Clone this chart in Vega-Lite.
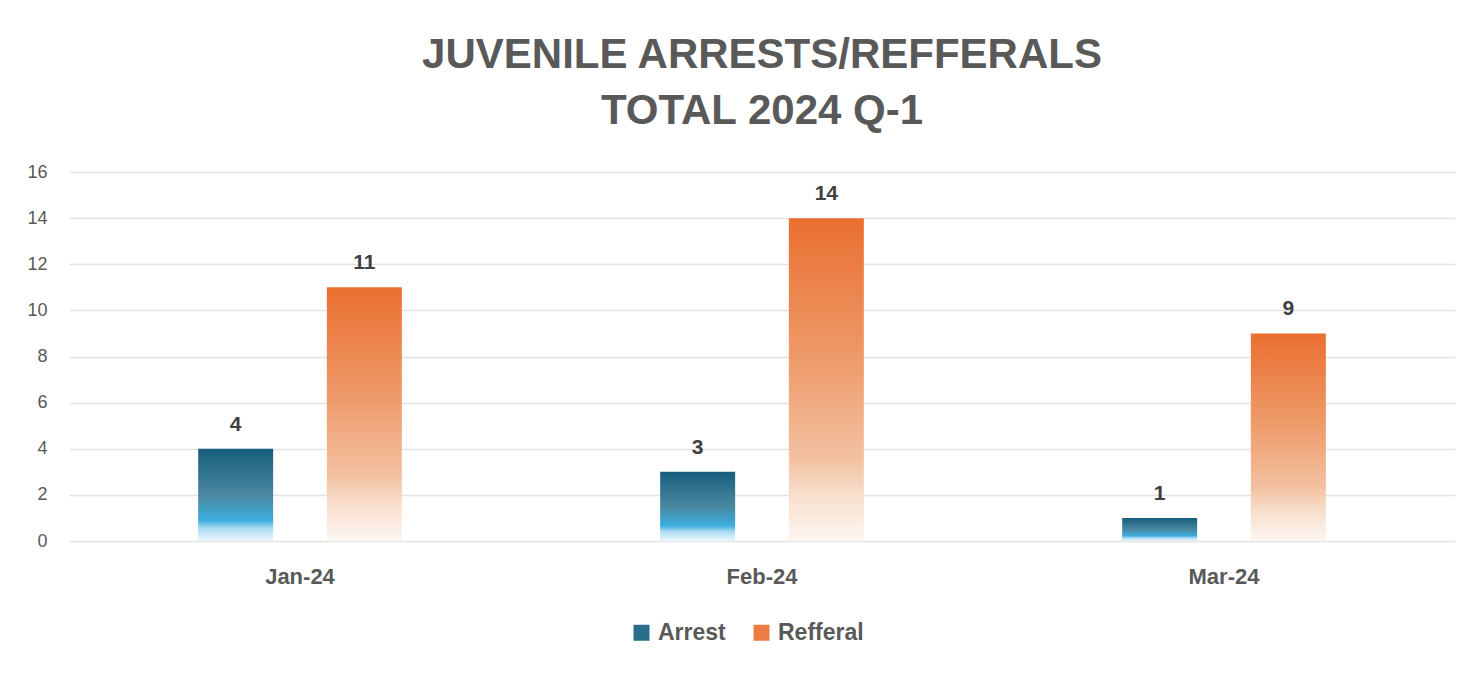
{
  "$schema": "https://vega.github.io/schema/vega-lite/v6.json",
  "autosize": {"type": "none"},
  "width": 1386,
  "height": 369,
  "padding": {"left": 69, "top": 172, "right": 26, "bottom": 134},
  "background": "white",
  "title": {
    "text": ["JUVENILE ARRESTS/REFFERALS", "TOTAL 2024 Q-1"],
    "fontSize": 42,
    "fontWeight": "bold",
    "color": "#595959",
    "font": "Liberation Sans",
    "lineHeight": 56,
    "anchor": "middle",
    "offset": 30
  },
  "data": {
    "values": [
      {"month": "Jan-24", "type": "Arrest", "value": 4},
      {"month": "Jan-24", "type": "Refferal", "value": 11},
      {"month": "Feb-24", "type": "Arrest", "value": 3},
      {"month": "Feb-24", "type": "Refferal", "value": 14},
      {"month": "Mar-24", "type": "Arrest", "value": 1},
      {"month": "Mar-24", "type": "Refferal", "value": 9}
    ]
  },
  "encoding": {
    "x": {
      "field": "month", "type": "nominal", "sort": ["Jan-24", "Feb-24", "Mar-24"],
      "scale": {"paddingInner": 0, "paddingOuter": 0},
      "axis": {"title": null, "labelAngle": 0, "labelFontSize": 22, "labelFontWeight": "bold", "labelColor": "#595959", "labelFont": "Liberation Sans", "ticks": false, "domain": false, "labelPadding": 25, "grid": false}
    },
    "xOffset": {"field": "type", "type": "nominal", "scale": {"domain": ["Arrest", "Refferal"], "paddingInner": 0.41, "paddingOuter": 1.025}},
    "y": {
      "field": "value", "type": "quantitative",
      "scale": {"domain": [0, 16]},
      "axis": {"title": null, "values": [0, 2, 4, 6, 8, 10, 12, 14, 16], "labelFontSize": 18, "labelColor": "#595959", "labelFont": "Liberation Sans", "ticks": false, "domain": false, "labelPadding": 22, "gridColor": "#e3e3e3", "gridWidth": 1.3}
    }
  },
  "layer": [
    {
      "transform": [{"filter": "datum.type === 'Arrest'"}],
      "mark": {"type": "bar", "width": 75, "color": {"gradient": "linear", "x1": 0, "y1": 0, "x2": 0, "y2": 1, "stops": [
        {"offset": 0, "color": "#175D7D"},
        {"offset": 0.5, "color": "#4A88A0"},
        {"offset": 0.78, "color": "#3DAEE0"},
        {"offset": 0.86, "color": "#A8DAF2"},
        {"offset": 1, "color": "#EEF8FD"}
      ]}}
    },
    {
      "transform": [{"filter": "datum.type === 'Refferal'"}],
      "mark": {"type": "bar", "width": 75, "color": {"gradient": "linear", "x1": 0, "y1": 0, "x2": 0, "y2": 1, "stops": [
        {"offset": 0, "color": "#EA6F30"},
        {"offset": 0.45, "color": "#EE9C6C"},
        {"offset": 0.75, "color": "#F3C2A2"},
        {"offset": 0.85, "color": "#F8DDCB"},
        {"offset": 1, "color": "#FDF6F2"}
      ]}}
    },
    {
      "mark": {"type": "point", "filled": true, "opacity": 0, "size": 1},
      "encoding": {
        "color": {
          "field": "type", "type": "nominal",
          "scale": {"domain": ["Arrest", "Refferal"], "range": ["#2A6E8E", "#EC7D45"]},
          "legend": {
            "title": null, "orient": "none", "direction": "horizontal", "legendX": 561, "legendY": 449,
            "labelFontSize": 23, "labelFontWeight": "bold", "labelColor": "#595959", "labelFont": "Liberation Sans", "labelOffset": 5,
            "symbolType": "square", "symbolSize": 256, "symbolOpacity": 1, "symbolStrokeWidth": 0, "columnPadding": 24
          }
        }
      }
    },
    {
      "mark": {"type": "text", "dy": -24, "fontSize": 21, "fontWeight": "bold", "color": "#404040", "font": "Liberation Sans"},
      "encoding": {"text": {"field": "value", "type": "quantitative"}}
    }
  ],
  "config": {"view": {"stroke": null}, "axis": {"domainColor": "#d0d0d0"}}
}
